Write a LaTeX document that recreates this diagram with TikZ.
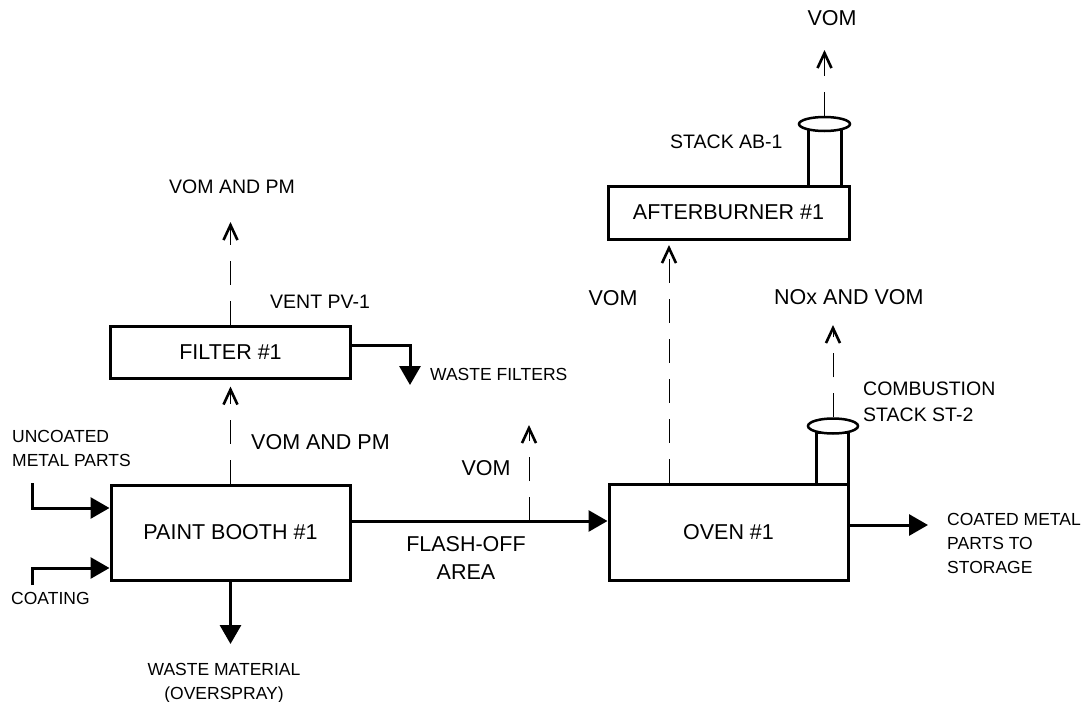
\documentclass[tikz,border=0pt]{standalone}
\usepackage{fontspec}
\setmainfont{Liberation Sans}
\usetikzlibrary{arrows.meta,shapes.geometric}
\newcommand\fbig{\fontsize{21.5}{28}\selectfont}
\newcommand\fmid{\fontsize{19.5}{26.5}\selectfont}
\newcommand\fsml{\fontsize{17.5}{24}\selectfont}
\begin{document}
\begin{tikzpicture}[x=1pt,y=-1pt,
  box/.style={draw,line width=3pt,inner sep=0pt,font=\fbig},
  stackbody/.style={draw,line width=3pt,inner sep=0pt},
  stacktop/.style={ellipse,draw,fill=white,line width=2.5pt,inner sep=0pt},
  big/.style={inner sep=0pt,font=\fbig},
  mid/.style={inner sep=0pt,font=\fmid},
  sml/.style={inner sep=0pt,font=\fsml},
  flow/.style={line width=3pt,-{Triangle[length=19pt,width=21pt]}},
  gas/.style={line width=1pt,dash pattern=on 24pt off 16pt,
    -{Straight Barb[length=15pt,width=14pt,line width=2.6pt]}}]
\useasboundingbox (0,0) rectangle (1088,702);
% process boxes
\node[box,minimum width=239pt,minimum height=95pt] (booth) at (230.5,532.5) {PAINT BOOTH \#1};
\node[box,minimum width=240pt,minimum height=52pt] (filter) at (230.5,352) {FILTER \#1};
\node[box,minimum width=239pt,minimum height=96pt] (oven) at (728.5,532) {OVEN \#1};
\node[box,minimum width=241pt,minimum height=53pt] (ab) at (728.5,212.5) {AFTERBURNER \#1};
% stacks
\node[stackbody,minimum width=32pt,minimum height=52pt] (cstack) at (832,458) {};
\node[stacktop,minimum width=50pt,minimum height=15pt] (cell) at (833,426) {};
\node[stackbody,minimum width=33pt,minimum height=58pt] (abstack) at (824.5,157) {};
\node[stacktop,minimum width=51pt,minimum height=14pt] (abell) at (824.5,124) {};
% coordinates
\coordinate (ventout) at (230.5,222);
\coordinate (fo) at (529,521);
\coordinate (foout) at (529,425);
\coordinate (abin) at (669,245);
\coordinate (about) at (824.5,50);
\coordinate (cout) at (833,325);
\coordinate (ucA) at (32,483);
\coordinate (ucB) at (32,508);
\coordinate (coA) at (32,585);
\coordinate (coB) at (32,568);
\coordinate (wm) at (230.5,644);
\coordinate (wfA) at (410,345);
\coordinate (wfB) at (410,385);
\coordinate (cm) at (928,525);
% solid flows
\draw[flow] (ucA) -- (ucB) -- (ucB -| booth.west);
\draw[flow] (coA) -- (coB) -- (coB -| booth.west);
\draw[flow] (booth.south) -- (wm);
\draw[flow] (filter.east |- wfA) -- (wfA) -- (wfB);
\draw[flow] (booth.east |- fo) -- (oven.west |- fo);
\draw[flow] (oven.east |- cm) -- (cm);
% emissions
\draw[gas] (booth.north) -- ([yshift=-7pt]filter.south);
\draw[gas] (filter.north) -- (ventout);
\draw[gas] (fo) -- (foout);
\draw[gas] (oven.north -| abin) -- (abin);
\draw[gas] (abell.north) -- (about);
\draw[gas] (cell.north) -- (cout);
% labels
\node[mid,anchor=west] (l1) at (169,187) {VOM AND PM};
\node[mid,anchor=west] (l2) at (270,302) {VENT PV-1};
\node[big,anchor=west] (l3) at (251,442) {VOM AND PM};
\node[sml,anchor=west,align=left] (l4) at (12,448) {UNCOATED\\METAL PARTS};
\node[sml,anchor=west] (l5) at (11,598.5) {COATING};
\node[sml,align=center] (l6) at (224,683) {WASTE MATERIAL\\(OVERSPRAY)};
\node[sml,anchor=west] (l7) at (430,374) {WASTE FILTERS};
\node[big,align=center] (l8) at (466,558) {FLASH-OFF\\AREA};
\node[big] (l9) at (486,468) {VOM};
\node[big] (l10) at (613,298) {VOM};
\node[big,anchor=west] (l11) at (774,297.5) {NOx AND VOM};
\node[mid,anchor=west,align=left] (l12) at (863,402) {COMBUSTION\\STACK ST-2};
\node[sml,anchor=west,align=left] (l13) at (947,543.5) {COATED METAL\\PARTS TO\\STORAGE};
\node[mid,anchor=west] (l14) at (670,142) {STACK AB-1};
\node[big] (l15) at (832,18) {VOM};
\end{tikzpicture}
\end{document}
